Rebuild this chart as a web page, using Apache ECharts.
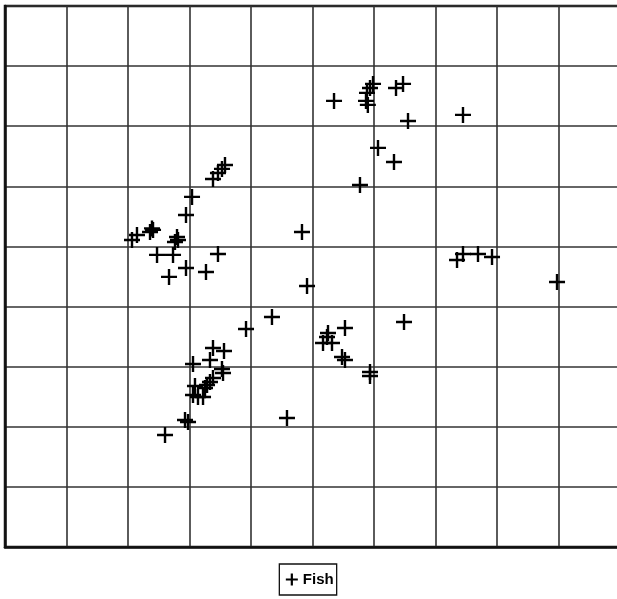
<!DOCTYPE html>
<html>
<head>
<meta charset="utf-8">
<script src="https://cdn.jsdelivr.net/npm/echarts@6/dist/echarts.min.js"></script>
<style>html,body{margin:0;padding:0;background:#fff}#c{width:617px;height:599px}</style>
</head>
<body>
<div id="c"></div>
<script>
var seriesName = 'Fish';
var fishX = [3.577,3.528,3.463,3.382,3.041,2.943,2.390,2.407,2.358,2.146,2.065,2.797,2.813,2.764,2.472,2.732,3.463,2.943,3.268,2.667,
  5.350,5.984,5.935,5.886,5.870,5.900,6.358,6.472,6.553,7.447,6.065,6.325,5.772,4.829,4.911,7.350,7.447,7.691,7.919,8.976,
  4.341,3.919,6.488,5.528,5.252,5.236,5.171,5.317,5.480,5.528,5.935,5.935,4.585,
  3.382,3.561,3.057,3.333,3.528,3.545,3.382,3.333,3.285,3.252,3.089,3.057,3.138,3.220,2.927,2.976,2.602];
var fishY = [6.356,6.290,6.223,6.123,5.824,5.524,5.300,5.275,5.241,5.191,5.108,5.158,5.108,5.075,4.859,4.859,4.875,4.642,4.576,4.493,
  7.421,7.704,7.637,7.554,7.421,7.355,7.637,7.704,7.088,7.188,6.639,6.406,6.023,5.241,4.343,4.775,4.875,4.875,4.825,4.409,
  3.827,3.627,3.744,3.644,3.561,3.494,3.394,3.394,3.161,3.111,2.912,2.845,2.146,
  3.311,3.261,3.045,3.111,2.962,2.895,2.812,2.745,2.695,2.646,2.679,2.529,2.496,2.496,2.113,2.080,1.864];
var data = fishX.map(function(x,i){return [x, fishY[i]];});
var cross = 'path://M0,8L16,8M8,0L8,16';
var chart = echarts.init(document.getElementById('c'));
chart.setOption({
  animation:false,
  backgroundColor:'#fff',
  grid:{left:5,top:6,width:615,height:541,outerBoundsMode:'none',show:true,borderColor:'#111',borderWidth:2.5,containLabel:false},
  xAxis:{type:'value',min:0,max:10,interval:1,axisLabel:{show:false},axisTick:{show:false},
    axisLine:{show:true,lineStyle:{color:'#111',width:2.5}},splitLine:{show:true,lineStyle:{color:'#333',width:1.6}}},
  yAxis:{type:'value',min:0,max:9,interval:1,axisLabel:{show:false},axisTick:{show:false},
    axisLine:{show:true,lineStyle:{color:'#111',width:2.5}},splitLine:{show:true,lineStyle:{color:'#333',width:1.6}}},
  legend:{left:'center',top:564,itemWidth:12,itemHeight:12,itemGap:6,padding:[7,3,7,4],
    borderColor:'#111',borderWidth:1.3,
    textStyle:{fontFamily:'Liberation Sans, Arial',fontWeight:'bold',fontSize:15,color:'#000'},
    data:[{name:seriesName,icon:cross,itemStyle:{color:'none',borderColor:'#000',borderWidth:2.2}}]},
  series:[{name:seriesName,type:'scatter',data:data,symbol:cross,symbolSize:16,
    itemStyle:{color:'none',borderColor:'#000',borderWidth:2.4,opacity:1}}]
});
</script>
</body>
</html>
